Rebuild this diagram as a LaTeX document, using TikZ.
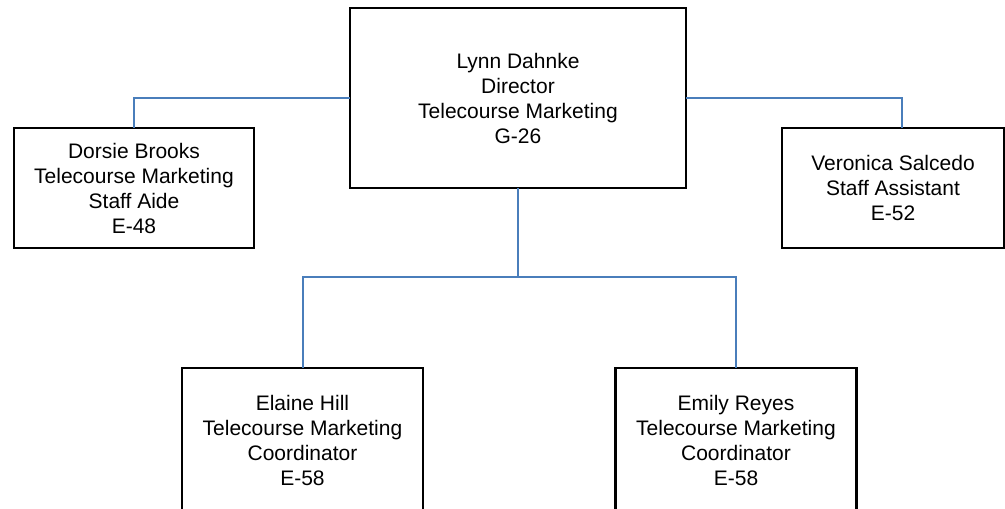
\documentclass[tikz,border=0pt]{standalone}
\usepackage{fontspec}
\setmainfont{Liberation Sans}
\usepackage{tikz}
\definecolor{linkblue}{RGB}{74,126,187}
\tikzset{
    staffnode/.style = {
        align=center,
        text centered,
        font=\fontsize{21}{25}\selectfont,
        rectangle,
        draw=black,
        line width=2.4pt,
        inner sep=0pt,
        outer sep=0pt
    },
    headnode/.style = {
        staffnode,
        minimum width=336pt,
        minimum height=180pt
    },
    sidenode/.style = {
        staffnode,
        minimum width=240pt,
        minimum height=120pt
    },
    lownode/.style = {
        staffnode,
        minimum width=241pt,
        minimum height=144pt
    },
    link/.style = {
        draw=linkblue,
        line width=2pt
    }
}
\begin{document}
\begin{tikzpicture}[x=1pt, y=-1pt]
    \useasboundingbox (0,0) rectangle (1005,509);
    \node [headnode] (director) at (518,98) {Lynn Dahnke\\Director\\Telecourse Marketing\\G-26};
    \node [sidenode] (dorsie) at (134,188) {Dorsie Brooks\\Telecourse Marketing\\Staff Aide\\E-48};
    \node [sidenode, minimum width=222pt] (veronica) at (893,188) {Veronica Salcedo\\Staff Assistant\\E-52};
    \node [lownode] (elaine) at (302.5,440) {Elaine Hill\\Telecourse Marketing\\Coordinator\\E-58};
    \node [lownode] (emily) at (736,440) {Emily Reyes\\Telecourse Marketing\\Coordinator\\E-58};
    \coordinate (split) at (518,277);
    \draw [link] (director.west) -| (dorsie.north);
    \draw [link] (director.east) -| ([xshift=9pt]veronica.north);
    \draw [link] (director.south) -- (split);
    \draw [link] (elaine.north) |- (split) -| (emily.north);
\end{tikzpicture}
\end{document}
